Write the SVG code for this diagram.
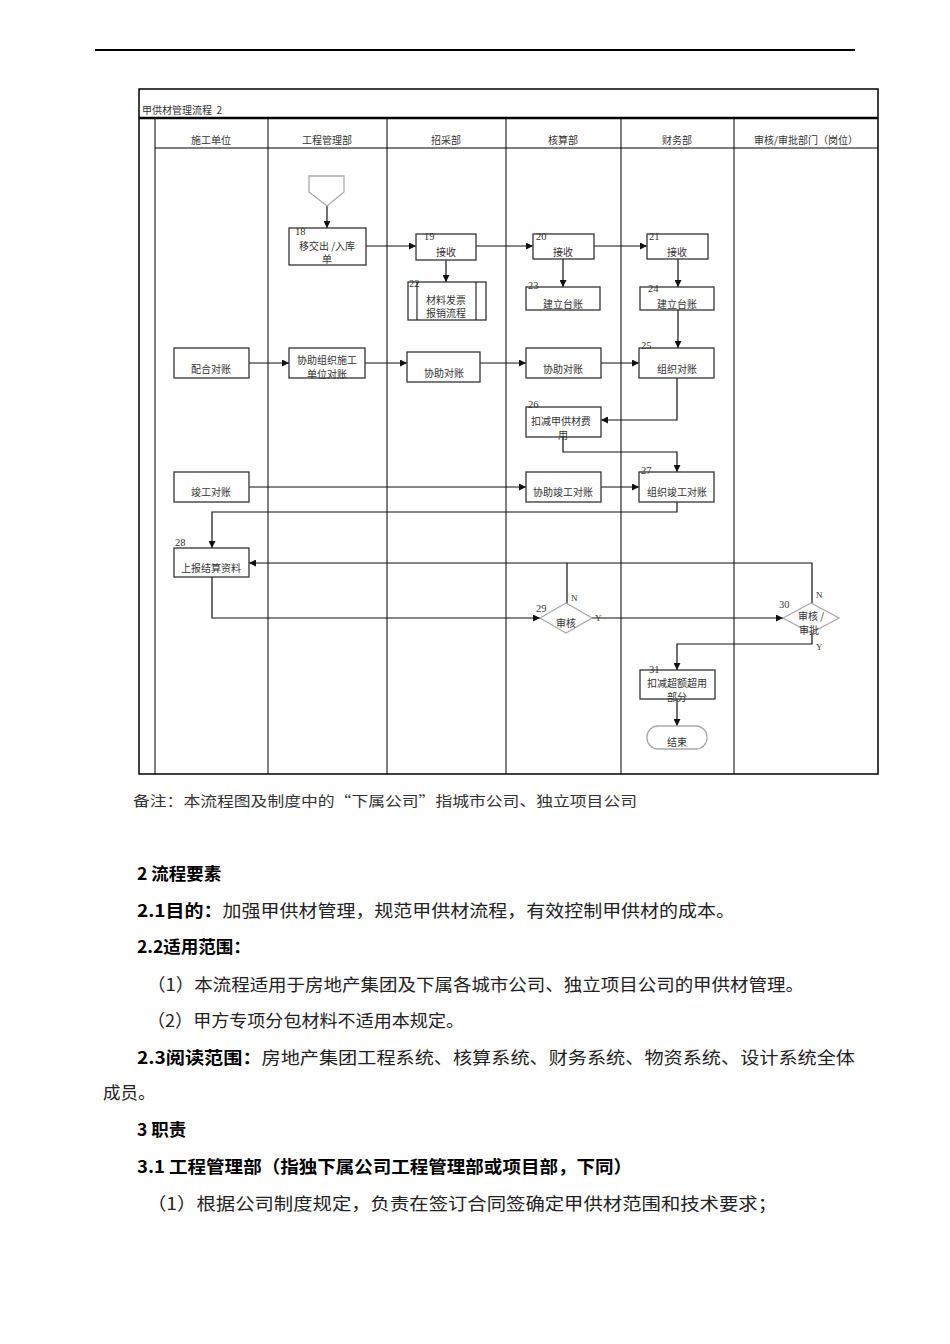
<svg xmlns="http://www.w3.org/2000/svg" width="950" height="1344" viewBox="0 0 950 1344">
<style>
.frame{fill:none;stroke:#000;stroke-width:1.5}
.lane{fill:none;stroke:#000;stroke-width:1}
.box{fill:#fff;stroke:#333;stroke-width:1.3}
.gray{fill:#fff;stroke:#aaa;stroke-width:1.3}
.t{font-family:"Noto Sans CJK SC","Noto Sans CJK JP",sans-serif;font-size:10px;fill:#333;text-anchor:middle}
.h{font-family:"Noto Sans CJK SC","Noto Sans CJK JP",sans-serif;font-size:10px;fill:#333;text-anchor:middle}
.n{font-family:"Liberation Serif",serif;font-size:10.5px;fill:#333}
.yn{font-family:"Liberation Serif",serif;font-size:9px;fill:#333}
.c{fill:none;stroke:#111;stroke-width:1.2}
.body{font-family:"Noto Sans CJK SC","Noto Sans CJK JP",sans-serif;font-size:17.5px;fill:#222}
.bold{font-weight:bold;fill:#000}
</style>
<defs>
<marker id="arr" viewBox="0 0 10 10" refX="10" refY="5" markerWidth="7" markerHeight="7" markerUnits="userSpaceOnUse" orient="auto">
<path d="M0,0 L10,5 L0,10 z" fill="#111"/>
</marker>
</defs>
<line x1="95" y1="50" x2="855" y2="50" stroke="#000" stroke-width="2"/>
<g id="frame">
<rect class="frame" x="139" y="89" width="739" height="685"/>
<line x1="139" y1="118" x2="878" y2="118" stroke="#000" stroke-width="2.5"/>
<text x="142" y="114" style="font-family:'Noto Sans CJK SC',sans-serif;font-size:10px;fill:#333">甲供材管理流程&#160;&#160;2</text>
<line class="lane" x1="155" y1="118" x2="155" y2="774"/>
<line class="lane" x1="268" y1="118" x2="268" y2="774"/>
<line class="lane" x1="387" y1="118" x2="387" y2="774"/>
<line class="lane" x1="506" y1="118" x2="506" y2="774"/>
<line class="lane" x1="621" y1="118" x2="621" y2="774"/>
<line class="lane" x1="734" y1="118" x2="734" y2="774"/>
<line class="lane" x1="155" y1="148" x2="878" y2="148"/>
<text class="h" x="211" y="144">施工单位</text>
<text class="h" x="327" y="144">工程管理部</text>
<text class="h" x="446" y="144">招采部</text>
<text class="h" x="563" y="144">核算部</text>
<text class="h" x="677" y="144">财务部</text>
<text class="h" x="806" y="144">审核/审批部门（岗位）</text>
</g>
<g id="connectors">
<polyline class="c" points="327,206 327,228" marker-end="url(#arr)"/>
<polyline class="c" points="366,246 416,246" marker-end="url(#arr)"/>
<polyline class="c" points="476,246 533,246" marker-end="url(#arr)"/>
<polyline class="c" points="594,246 647,246" marker-end="url(#arr)"/>
<polyline class="c" points="446,260 446,282" marker-end="url(#arr)"/>
<polyline class="c" points="563,259 563,287" marker-end="url(#arr)"/>
<polyline class="c" points="678,259 678,287" marker-end="url(#arr)"/>
<polyline class="c" points="678,310 678,348" marker-end="url(#arr)"/>
<polyline class="c" points="249,363 289,363" marker-end="url(#arr)"/>
<polyline class="c" points="365,363 407,363" marker-end="url(#arr)"/>
<polyline class="c" points="480,363 526,363" marker-end="url(#arr)"/>
<polyline class="c" points="601,363 639,363" marker-end="url(#arr)"/>
<polyline class="c" points="677,378 677,420 601,420" marker-end="url(#arr)"/>
<polyline class="c" points="563,437 563,452 677,452 677,472" marker-end="url(#arr)"/>
<polyline class="c" points="249,487 526,487" marker-end="url(#arr)"/>
<polyline class="c" points="601,487 639,487" marker-end="url(#arr)"/>
<polyline class="c" points="677,502 677,512 212,512 212,548" marker-end="url(#arr)"/>
<polyline class="c" points="212,577 212,618 540,618" marker-end="url(#arr)"/>
<polyline class="c" points="567,603 567,563"/>
<polyline class="c" points="812,603 812,563 249,563" marker-end="url(#arr)"/>
<polyline class="c" points="592,618 783,618" marker-end="url(#arr)"/>
<polyline class="c" points="812,633 812,644 677,644 677,670" marker-end="url(#arr)"/>
<polyline class="c" points="677,699 677,726" marker-end="url(#arr)"/>
</g>
<g id="start"><polygon class="gray" points="309,176 344,176 344,192 327,206 309,192"/></g>
<g id="n18"><rect class="box" x="289" y="228" width="77" height="37"/><text class="n" x="295" y="235">18</text><text class="t" x="327" y="250">移交出 /入库</text><text class="t" x="327" y="263">单</text></g>
<g id="n19"><rect class="box" x="416" y="234" width="60" height="26"/><text class="n" x="424" y="240">19</text><text class="t" x="446" y="256">接收</text></g>
<g id="n22"><rect class="box" x="408" y="282" width="78" height="38"/><line class="lane" x1="417" y1="282" x2="417" y2="320"/><line class="lane" x1="476" y1="282" x2="476" y2="320"/><text class="n" x="409" y="287">22</text><text class="t" x="446" y="304">材料发票</text><text class="t" x="446" y="317">报销流程</text></g>
<g id="n20"><rect class="box" x="533" y="234" width="61" height="25"/><text class="n" x="536" y="240">20</text><text class="t" x="563" y="256">接收</text></g>
<g id="n21"><rect class="box" x="647" y="234" width="61" height="25"/><text class="n" x="649" y="240">21</text><text class="t" x="677" y="256">接收</text></g>
<g id="n23"><rect class="box" x="526" y="287" width="74" height="23"/><text class="n" x="528" y="289">23</text><text class="t" x="563" y="308">建立台账</text></g>
<g id="n24"><rect class="box" x="640" y="287" width="74" height="23"/><text class="n" x="648" y="292">24</text><text class="t" x="677" y="308">建立台账</text></g>
<g id="n_peihe"><rect class="box" x="174" y="348" width="75" height="30"/><text class="t" x="211" y="373">配合对账</text></g>
<g id="n_xzzz"><rect class="box" x="289" y="348" width="76" height="30"/><text class="t" x="327" y="364">协助组织施工</text><text class="t" x="327" y="378">单位对账</text></g>
<g id="n_xz1"><rect class="box" x="407" y="352" width="73" height="30"/><text class="t" x="444" y="377">协助对账</text></g>
<g id="n_xz2"><rect class="box" x="526" y="348" width="75" height="30"/><text class="t" x="563" y="373">协助对账</text></g>
<g id="n25"><rect class="box" x="639" y="348" width="75" height="30"/><text class="n" x="641" y="349">25</text><text class="t" x="677" y="373">组织对账</text></g>
<g id="n26"><rect class="box" x="526" y="407" width="75" height="30"/><text class="n" x="528" y="408">26</text><text class="t" x="561" y="425">扣减甲供材费</text><text class="t" x="563" y="439">用</text></g>
<g id="n_jg"><rect class="box" x="174" y="472" width="75" height="30"/><text class="t" x="211" y="496">竣工对账</text></g>
<g id="n_xzjg"><rect class="box" x="526" y="472" width="75" height="30"/><text class="t" x="563" y="496">协助竣工对账</text></g>
<g id="n27"><rect class="box" x="639" y="472" width="75" height="30"/><text class="n" x="641" y="474">27</text><text class="t" x="677" y="496">组织竣工对账</text></g>
<g id="n28"><rect class="box" x="174" y="548" width="75" height="29"/><text class="n" x="175" y="546">28</text><text class="t" x="211" y="572">上报结算资料</text></g>
<g id="n29"><polygon class="gray" points="540,618 566,603 592,618 566,633"/><text class="n" x="536" y="612">29</text><text class="t" x="566" y="627">审核</text><text class="yn" x="571" y="601">N</text><text class="yn" x="595" y="621">Y</text></g>
<g id="n30"><polygon class="gray" points="783,618 811,603 839,618 811,633"/><text class="n" x="779" y="608">30</text><text class="t" x="811" y="620">审核 /</text><text class="t" x="809" y="634">审批</text><text class="yn" x="816" y="598">N</text><text class="yn" x="816" y="650">Y</text></g>
<g id="n31"><rect class="box" x="640" y="670" width="75" height="29"/><text class="n" x="649" y="673">31</text><text class="t" x="677" y="687">扣减超额超用</text><text class="t" x="677" y="701">部分</text></g>
<g id="end"><rect class="gray" x="647" y="726" width="60" height="23" rx="11" ry="11"/><text class="t" x="677" y="746">结束</text></g>
<g id="text">
<text class="body" x="133" y="806" style="font-size:14px;fill:#333" textLength="504" lengthAdjust="spacingAndGlyphs">备注：本流程图及制度中的“下属公司”指城市公司、独立项目公司</text>
<text class="body bold" x="137" y="880">2 流程要素</text>
<text class="body" x="137" y="917" textLength="598" lengthAdjust="spacingAndGlyphs"><tspan class="bold">2.1目的：</tspan>加强甲供材管理，规范甲供材流程，有效控制甲供材的成本。</text>
<text class="body bold" x="137" y="953">2.2适用范围：</text>
<text class="body" x="147" y="991" textLength="657" lengthAdjust="spacingAndGlyphs">（1）本流程适用于房地产集团及下属各城市公司、独立项目公司的甲供材管理。</text>
<text class="body" x="147" y="1027" textLength="317" lengthAdjust="spacingAndGlyphs">（2）甲方专项分包材料不适用本规定。</text>
<text class="body" x="137" y="1064" textLength="718" lengthAdjust="spacingAndGlyphs"><tspan class="bold">2.3阅读范围：</tspan>房地产集团工程系统、核算系统、财务系统、物资系统、设计系统全体</text>
<text class="body" x="103" y="1099">成员。</text>
<text class="body bold" x="137" y="1136">3 职责</text>
<text class="body bold" x="137" y="1173" textLength="495" lengthAdjust="spacingAndGlyphs">3.1 工程管理部（指独下属公司工程管理部或项目部，下同）</text>
<text class="body" x="147" y="1210" textLength="630" lengthAdjust="spacingAndGlyphs">（1）根据公司制度规定，负责在签订合同签确定甲供材范围和技术要求；</text>
</g>
</svg>
